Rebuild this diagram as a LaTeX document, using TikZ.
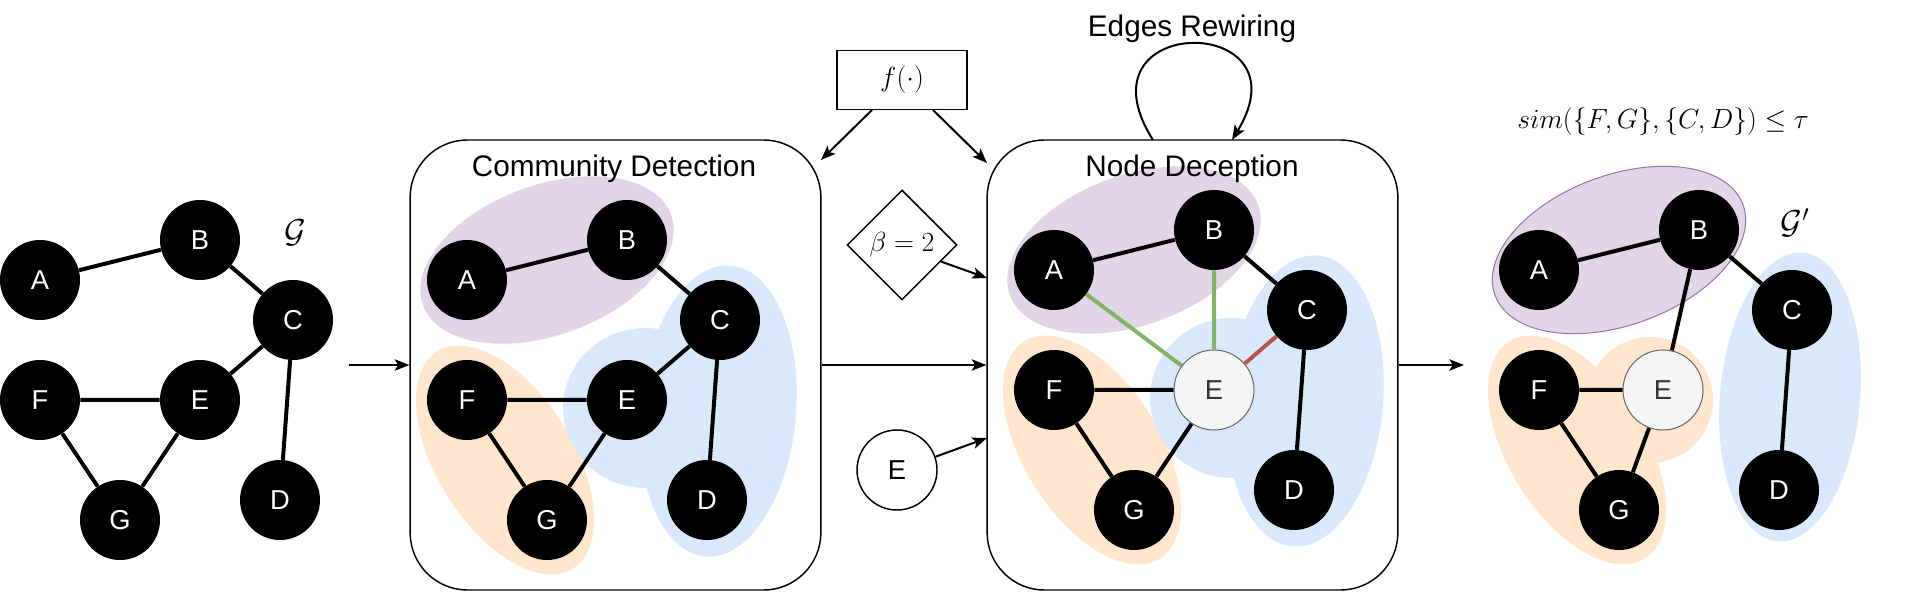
\documentclass[tikz,border=0pt]{standalone}
\usepackage{fontspec}
\setmainfont{Liberation Sans}
\usetikzlibrary{shapes.geometric,arrows.meta,calc}
\definecolor{purp}{HTML}{E1D5E7}
\definecolor{purpd}{HTML}{9673A6}
\definecolor{oran}{HTML}{FFE6CC}
\definecolor{blu}{HTML}{DAE8FC}
\definecolor{grn}{HTML}{82B366}
\definecolor{rd}{HTML}{B85450}
\definecolor{lgray}{HTML}{F5F5F5}
\definecolor{dgray}{HTML}{666666}
\definecolor{tgray}{HTML}{333333}
\pgfdeclarelayer{blobs}
\pgfdeclarelayer{edges}
\pgfsetlayers{blobs,edges,main}
\begin{document}
\begin{tikzpicture}[x=0.75pt,y=-0.75pt,
  gn/.style={circle,fill=black,text=white,minimum size=60pt,inner sep=0pt,font=\fontsize{20.5}{24}\selectfont},
  gne/.style={circle,fill=lgray,draw=dgray,line width=0.75pt,text=tgray,minimum size=60pt,inner sep=0pt,font=\fontsize{20.5}{24}\selectfont},
  gedge/.style={line width=3pt},
  arr/.style={line width=1.5pt,-{Stealth[length=11pt,width=8.5pt,inset=2.5pt]}},
  panel/.style={draw,line width=1.1pt,rounded corners=43pt,minimum width=308pt,minimum height=337.5pt,inner sep=0pt},
  ttl/.style={font=\fontsize{22.3}{26}\selectfont,anchor=base},
  mlab/.style={font=\fontsize{21}{25}\selectfont},
  glab/.style={font=\fontsize{24}{28}\selectfont},
]
\useasboundingbox (0,0) rectangle (1919,605);

% panels
\node[panel] (cd) at (615.5,365) {};
\node[panel] (nd) at (1192.5,365) {};
\node[ttl] (cdt) at (614,177) {Community Detection};
\node[ttl] (ndt) at (1192,177) {Node Deception};
\node[ttl] (ert) at (1192,37) {Edges Rewiring};

% blobs
\begin{pgfonlayer}{blobs}
% panel 2
\fill[purp, rotate around={20:(547,260)}] (547,260) ellipse [x radius=132, y radius=75];
\fill[oran, rotate around={-58:(505,460)}] (505,460) ellipse [x radius=128, y radius=68];
\fill[blu, rotate around={85:(718,411)}] (718,411) ellipse [x radius=146, y radius=78];
\fill[blu] (645,408) ellipse [x radius=82, y radius=80];
% panel 3
\fill[purp, rotate around={20:(1134,250)}] (1134,250) ellipse [x radius=132, y radius=75];
\fill[oran, rotate around={-58:(1092,450)}] (1092,450) ellipse [x radius=128, y radius=68];
\fill[blu, rotate around={85:(1305,401)}] (1305,401) ellipse [x radius=146, y radius=78];
\fill[blu] (1232,398) ellipse [x radius=82, y radius=80];
% panel 4
\filldraw[fill=purp, draw=purpd, line width=0.75pt, rotate around={20:(1619,250)}] (1619,250) ellipse [x radius=132, y radius=75];
\fill[oran, rotate around={-58:(1577,450)}] (1577,450) ellipse [x radius=128, y radius=68];
\fill[oran] (1650,400) circle [radius=63];
\fill[blu, rotate around={85:(1790,397)}] (1790,397) ellipse [x radius=145, y radius=70];
\end{pgfonlayer}

% panel 1 graph
\node[gn] (A1) at (40,280) {A};
\node[gn] (B1) at (200,240) {B};
\node[gn] (C1) at (293,320) {C};
\node[gn] (D1) at (280,500) {D};
\node[gn] (E1) at (200,400) {E};
\node[gn] (F1) at (40,400) {F};
\node[gn] (G1) at (120,520) {G};
\node[glab] (g1) at (295,233) {$\mathcal{G}$};

% panel 2 graph
\node[gn] (A2) at (467,280) {A};
\node[gn] (B2) at (627,240) {B};
\node[gn] (C2) at (720,320) {C};
\node[gn] (D2) at (707,500) {D};
\node[gn] (E2) at (627,400) {E};
\node[gn] (F2) at (467,400) {F};
\node[gn] (G2) at (547,520) {G};

% panel 3 graph
\node[gn] (A3) at (1054,270) {A};
\node[gn] (B3) at (1214,230) {B};
\node[gn] (C3) at (1307,310) {C};
\node[gn] (D3) at (1294,490) {D};
\node[gne] (E3) at (1214,390) {E};
\node[gn] (F3) at (1054,390) {F};
\node[gn] (G3) at (1134,510) {G};

% panel 4 graph
\node[gn] (A4) at (1539,270) {A};
\node[gn] (B4) at (1699,230) {B};
\node[gn] (C4) at (1792,310) {C};
\node[gn] (D4) at (1779,490) {D};
\node[gne] (E4) at (1663,390) {E};
\node[gn] (F4) at (1539,390) {F};
\node[gn] (G4) at (1619,510) {G};
\node[glab] (g4) at (1795,223) {$\mathcal{G}'$};
\node[mlab] (simt) at (1663,122) {$sim(\{F,G\},\{C,D\}) \leq \tau$};

\begin{pgfonlayer}{edges}
\foreach \p in {1,2} {
  \draw[gedge] (A\p)--(B\p) (B\p)--(C\p) (C\p)--(E\p) (E\p)--(F\p) (F\p)--(G\p) (G\p)--(E\p) (C\p)--(D\p);
}
\draw[gedge] (A3)--(B3) (B3)--(C3) (E3)--(F3) (F3)--(G3) (G3)--(E3) (C3)--(D3);
\draw[gedge,grn] (A3)--(E3) (B3)--(E3);
\draw[gedge,rd] (C3)--(E3);
\draw[gedge] (A4)--(B4) (B4)--(C4) (B4)--(E4) (E4)--(F4) (F4)--(G4) (G4)--(E4) (C4)--(D4);
\end{pgfonlayer}

% middle inputs
\node[draw,line width=1.1pt,minimum width=97.5pt,minimum height=44pt,inner sep=0pt,font=\fontsize{21}{25}\selectfont] (f) at (902,80) {$f(\cdot)$};
\node[draw,diamond,aspect=1,line width=1.1pt,minimum width=82.5pt,minimum height=82.5pt,inner sep=0pt,font=\fontsize{19.5}{23}\selectfont] (beta) at (902,245) {$\beta=2$};
\node[draw,circle,line width=1.1pt,minimum size=60pt,inner sep=0pt,font=\fontsize{20.5}{24}\selectfont] (ein) at (897,470) {E};

% connector ends
\coordinate (s1) at (349,365);
\coordinate (t4) at (1464,365);
\coordinate (fa) at (872,110);
\coordinate (fb) at (933,110);
\coordinate (cdin) at (821,160);
\coordinate (ndin1) at (987,163);
\coordinate (ndin2) at (987,278);
\coordinate (ndin3) at (987,438);
\coordinate (lp0) at (1153,140);
\coordinate (lp3) at (1232,140);

\draw[arr] (s1) -- (cd.west);
\draw[arr] (cd.east) -- (nd.west);
\draw[arr] (nd.east) -- (t4);
\draw[arr] (fa) -- (cdin);
\draw[arr] (fb) -- (ndin1);
\draw[arr] (beta.-23) -- (ndin2);
\draw[arr] (ein.19) -- (ndin3);
\draw[arr] (lp0) .. controls (1072,12) and (1310,12) .. (lp3);
\end{tikzpicture}
\end{document}
